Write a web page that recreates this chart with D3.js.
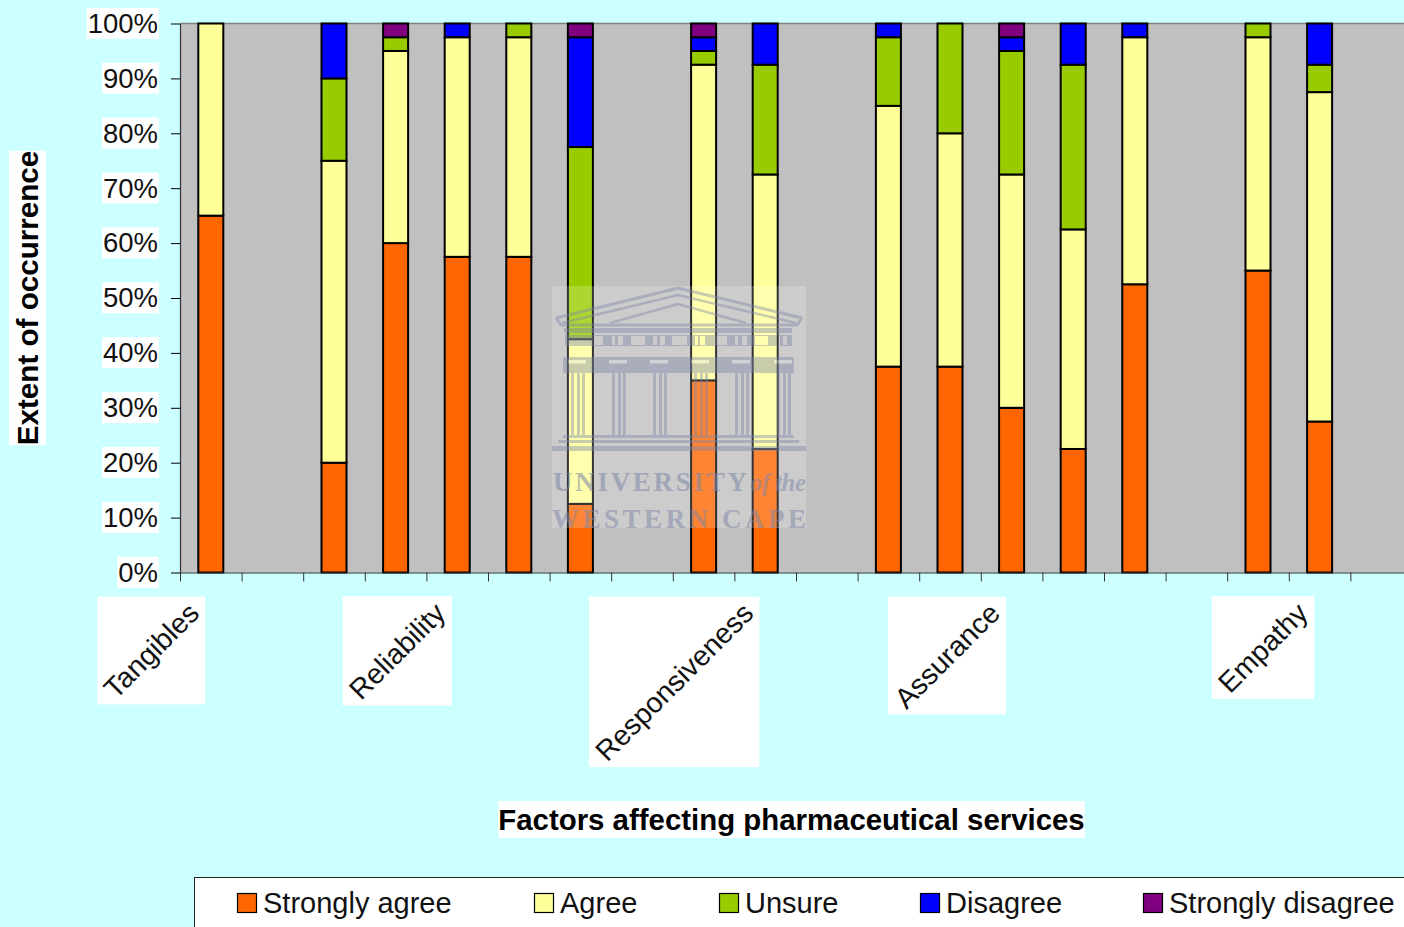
<!DOCTYPE html>
<html>
<head>
<meta charset="utf-8">
<script src="https://cdn.jsdelivr.net/npm/d3@7"></script>
<style>
  html, body { margin: 0; padding: 0; background: #CCFFFF; overflow: hidden; }
  svg { display: block; font-family: "Liberation Sans", Arial, sans-serif; }
</style>
</head>
<body>
<div id="chart"></div>
<script>
// Data, one entry per bar (percent of responses)
const barSlots = [0, 2, 3, 4, 5, 6, 8, 9, 11, 12, 13, 14, 15, 17, 18];
const stronglyAgree = [65, 20, 60, 57.5, 57.5, 12.5, 35, 22.5, 37.5, 37.5, 30, 22.5, 52.5, 55, 27.5];
const agree = [35, 55, 35, 40, 40, 30, 57.5, 50, 47.5, 42.5, 42.5, 40, 45, 42.5, 60];
const unsure = [0, 15, 2.5, 0, 2.5, 35, 2.5, 20, 12.5, 20, 22.5, 30, 0, 2.5, 5];
const disagree = [0, 10, 0, 2.5, 0, 20, 2.5, 7.5, 2.5, 0, 2.5, 7.5, 2.5, 0, 7.5];
const stronglyDisagree = [0, 0, 2.5, 0, 0, 2.5, 2.5, 0, 0, 0, 2.5, 0, 0, 0, 0];

const seriesNames = ["Strongly agree", "Agree", "Unsure", "Disagree", "Strongly disagree"];
const seriesColors = ["#FF6600", "#FFFF99", "#99CC00", "#0000FF", "#800080"];
const factorLabels = ["Tangibles", "Reliability", "Responsiveness", "Assurance", "Empathy"];
const factorSlots = [0, 4, 9, 13, 18];
const slotCount = 20;

const width = 1404;
const height = 927;
const plot = { left: 180, right: 1412, top: 23.5, bottom: 572.5 };

const rows = barSlots.map((slot, i) => ({
    slot: slot,
    "Strongly agree": stronglyAgree[i],
    "Agree": agree[i],
    "Unsure": unsure[i],
    "Disagree": disagree[i],
    "Strongly disagree": stronglyDisagree[i]
}));

const svg = d3.select("#chart")
              .append("svg")
              .attr("width", width)
              .attr("height", height);

const xScale = d3.scaleBand()
                 .domain(d3.range(slotCount))
                 .range([plot.left, plot.right])
                 .paddingInner(0.594)
                 .paddingOuter(0.297);

const xTicks = d3.scaleLinear()
                 .domain([0, slotCount])
                 .range([plot.left, plot.right]);

const yScale = d3.scaleLinear()
                 .domain([0, 100])
                 .range([plot.bottom, plot.top]);

const colorScale = d3.scaleOrdinal().domain(seriesNames).range(seriesColors);

// Plot background
svg.append("rect")
   .attr("x", plot.left)
   .attr("y", plot.top)
   .attr("width", plot.right - plot.left)
   .attr("height", plot.bottom - plot.top)
   .attr("fill", "#C0C0C0");

svg.append("line")
   .attr("x1", plot.left).attr("x2", plot.right)
   .attr("y1", plot.top).attr("y2", plot.top)
   .attr("stroke", "#808080")
   .attr("stroke-width", 1.5);

// Stacked bars
const stacked = d3.stack().keys(seriesNames)(rows);

svg.selectAll(".series")
   .data(stacked)
   .enter()
   .append("g")
   .attr("class", "series")
   .attr("fill", d => colorScale(d.key))
   .selectAll("rect")
   .data(d => d.filter(p => p[1] > p[0]))
   .enter()
   .append("rect")
   .attr("x", d => xScale(d.data.slot))
   .attr("y", d => yScale(d[1]))
   .attr("width", xScale.bandwidth())
   .attr("height", d => yScale(d[0]) - yScale(d[1]))
   .attr("stroke", "#000")
   .attr("stroke-width", 2);

// Axes
const yAxis = svg.append("g")
                 .attr("class", "y-axis")
                 .attr("transform", `translate(${plot.left},0)`)
                 .call(d3.axisLeft(yScale)
                         .tickValues(d3.range(0, 101, 10))
                         .tickFormat(d => d + "%")
                         .tickSize(9)
                         .tickPadding(13)
                         .tickSizeOuter(0));
yAxis.select(".domain").attr("stroke", "#333").attr("stroke-width", 1.2);
yAxis.selectAll("text").attr("font-size", 27.5).attr("font-family", "Liberation Sans").attr("fill", "#111");

const xAxis = svg.append("g")
                 .attr("class", "x-axis")
                 .attr("transform", `translate(0,${plot.bottom})`)
                 .call(d3.axisBottom(xTicks)
                         .tickValues(d3.range(0, slotCount + 1))
                         .tickFormat("")
                         .tickSize(9)
                         .tickSizeOuter(0));
xAxis.select(".domain").attr("stroke", "#333").attr("stroke-width", 1.2);
xAxis.selectAll("line").attr("stroke", "#333");

// Put a white box behind a text element
function whiteBehind(sel, padX, padY) {
    sel.each(function() {
        const box = this.getBoundingClientRect();
        svg.insert("rect", "g.series")
           .attr("x", box.left - padX)
           .attr("y", box.top - padY)
           .attr("width", box.width + padX * 2)
           .attr("height", box.height + padY * 2)
           .attr("fill", "#fff");
    });
}

whiteBehind(yAxis.selectAll("text"), 1, 0);

// Factor labels, slanted, each one ending under its own slot
const factorText = svg.selectAll(".factor")
   .data(factorLabels)
   .enter()
   .append("text")
   .attr("class", "factor")
   .attr("text-anchor", "end")
   .attr("font-size", 28.5)
   .attr("fill", "#111")
   .attr("transform", (d, i) => {
       const px = xScale(factorSlots[i]) + xScale.bandwidth() / 2 - 10;
       return `translate(${px},${615}) rotate(-45)`;
   })
   .text(d => d);
whiteBehind(factorText, 0, 0);

// Axis titles
const xTitle = svg.append("text")
   .attr("x", 791.5)
   .attr("y", 830)
   .attr("text-anchor", "middle")
   .attr("font-size", 29.4)
   .attr("font-weight", "bold")
   .attr("fill", "#000")
   .text("Factors affecting pharmaceutical services");
whiteBehind(xTitle, 0, 2);

const yTitle = svg.append("text")
   .attr("transform", "translate(38,298) rotate(-90)")
   .attr("text-anchor", "middle")
   .attr("font-size", 29.6)
   .attr("font-weight", "bold")
   .attr("fill", "#000")
   .text("Extent of occurrence");
whiteBehind(yTitle, 2, 0);

// Legend, runs off the right edge of the page like the original
svg.append("rect")
   .attr("x", 194.5)
   .attr("y", 877.5)
   .attr("width", 1300)
   .attr("height", 120)
   .attr("fill", "#fff")
   .attr("stroke", "#222")
   .attr("stroke-width", 1);

const legendX = d3.scaleOrdinal().domain(seriesNames).range([237, 534, 719, 920, 1143]);

const legendItem = svg.selectAll(".legend-item")
   .data(seriesNames)
   .enter()
   .append("g")
   .attr("class", "legend-item")
   .attr("transform", d => `translate(${legendX(d)},893)`);

legendItem.append("rect")
   .attr("x", 0.5)
   .attr("y", 0.5)
   .attr("width", 19)
   .attr("height", 19)
   .attr("fill", d => colorScale(d))
   .attr("stroke", "#000")
   .attr("stroke-width", 1.2);

legendItem.append("text")
   .attr("x", 26)
   .attr("y", 20)
   .attr("font-size", 29)
   .attr("fill", "#111")
   .text(d => d);

// University watermark laid over the plot
const mark = svg.append("g").attr("class", "watermark");
const ink = "#7d86a8";

mark.append("rect")
    .attr("x", 552).attr("y", 286)
    .attr("width", 254).attr("height", 242)
    .attr("fill", "#fff").attr("opacity", 0.2);

const building = mark.append("g").attr("fill", ink).attr("opacity", 0.42);

// pediment
building.append("path")
    .attr("fill", "none").attr("stroke", ink).attr("stroke-width", 3)
    .attr("d", "M556,318 L678,288 L802,318");
building.append("path")
    .attr("fill", "none").attr("stroke", ink).attr("stroke-width", 2.5)
    .attr("d", "M562,323 L678,295 L796,323");
building.append("path")
    .attr("fill", "none").attr("stroke", ink).attr("stroke-width", 2.5)
    .attr("d", "M610,323 L678,304 L746,323");
building.append("path")
    .attr("fill", "none").attr("stroke", ink).attr("stroke-width", 3)
    .attr("d", "M556,318 L561,325 H797 L802,318");
building.append("rect").attr("x", 564).attr("y", 328).attr("width", 228).attr("height", 5);
// frieze with its small openings
building.append("path")
    .attr("fill-rule", "evenodd")
    .attr("d", "M565,335 H792 V346 H565 Z " +
               "M593,336 H603 V345 H593 Z M612,336 H615 V345 H612 Z M618,336 H623 V345 H618 Z " +
               "M631,336 H645 V345 H631 Z M653,336 H657 V345 H653 Z M660,336 H665 V345 H660 Z " +
               "M672,336 H687 V345 H672 Z M695,336 H698 V345 H695 Z M700,336 H705 V345 H700 Z " +
               "M717,336 H727 V345 H717 Z M735,336 H738 V345 H735 Z M742,336 H747 V345 H742 Z " +
               "M755,336 H768 V345 H755 Z M777,336 H780 V345 H777 Z M783,336 H787 V345 H783 Z");
// architrave
building.append("rect").attr("x", 563).attr("y", 357).attr("width", 231).attr("height", 16);
// columns
[570, 611, 652, 693, 734, 776].forEach(cx => {
    building.append("rect").attr("x", cx - 2).attr("y", 360).attr("width", 18).attr("height", 3.5).attr("fill", "#fff").attr("opacity", 0.7);
    [1, 7, 12].forEach(dx => {
        building.append("rect").attr("x", cx + dx).attr("y", 367).attr("width", 3).attr("height", 68);
    });
});
// steps
building.append("rect").attr("x", 563).attr("y", 435).attr("width", 231).attr("height", 3);
building.append("rect").attr("x", 558).attr("y", 440).attr("width", 241).attr("height", 3);
building.append("rect").attr("x", 552).attr("y", 446).attr("width", 254).attr("height", 5);

mark.append("text")
    .attr("x", 553).attr("y", 491)
    .attr("font-family", "Liberation Serif")
    .attr("font-weight", "bold")
    .attr("font-size", 27)
    .attr("textLength", 194)
    .attr("fill", ink).attr("opacity", 0.55)
    .text("UNIVERSITY");
mark.append("text")
    .attr("x", 750).attr("y", 491)
    .attr("font-family", "Liberation Serif")
    .attr("font-style", "italic")
    .attr("font-weight", "bold")
    .attr("font-size", 25)
    .attr("textLength", 56)
    .attr("fill", ink).attr("opacity", 0.5)
    .text("of the");
mark.append("text")
    .attr("x", 552).attr("y", 528)
    .attr("font-family", "Liberation Serif")
    .attr("font-weight", "bold")
    .attr("font-size", 27)
    .attr("textLength", 254)
    .attr("fill", ink).attr("opacity", 0.5)
    .text("WESTERN CAPE");
</script>
</body>
</html>
